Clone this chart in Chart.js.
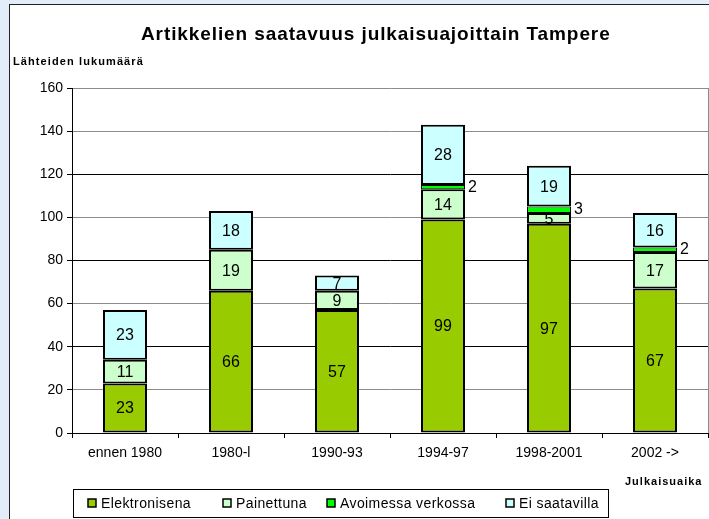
<!DOCTYPE html>
<html>
<head>
<meta charset="utf-8">
<script src="https://cdn.jsdelivr.net/npm/chart.js@4/dist/chart.umd.min.js"></script>
<style>
  html, body { margin: 0; padding: 0; background: #e3ecf9; overflow: hidden; }
  #frame { position: absolute; left: 9px; top: 4px; width: 710px; height: 530px; background: #fff;
           border-left: 1px solid #222; border-top: 1px solid #222; }
  #myChart { position: absolute; left: 0; top: 0; }
</style>
</head>
<body>
<div id="frame">
  <canvas id="myChart" width="699" height="514"></canvas>
</div>
<script>
const categories = ['ennen 1980', '1980-l', '1990-93', '1994-97', '1998-2001', '2002 ->'];
const elektronisena = [23, 66, 57, 99, 97, 67];
const painettuna = [11, 19, 9, 14, 5, 17];
const avoimessa = [0, 0, 0, 2, 3, 2];
const eiSaatavilla = [23, 18, 7, 28, 19, 16];
const yTicks = [0, 20, 40, 60, 80, 100, 120, 140, 160];

const titleText = 'Artikkelien saatavuus julkaisuajoittain Tampere';
const yTitle = 'Lähteiden lukumäärä';
const xTitle = 'Julkaisuaika';

const font = '"Liberation Sans", Arial, sans-serif';

// titles, value labels and the boxed legend
const extrasPlugin = {
    id: 'extras',
    afterDatasetsDraw(chart) {
        const ctx = chart.ctx;
        const area = chart.chartArea;
        ctx.save();

        // right edge of plot
        ctx.strokeStyle = '#8c8c8c';
        ctx.lineWidth = 1;
        ctx.beginPath();
        ctx.moveTo(area.right + 0.5, area.top);
        ctx.lineTo(area.right + 0.5, area.bottom);
        ctx.stroke();

        // value labels
        ctx.fillStyle = '#000';
        ctx.font = '16px ' + font;
        ctx.textBaseline = 'middle';
        chart.data.datasets.forEach((ds, di) => {
            const meta = chart.getDatasetMeta(di);
            meta.data.forEach((bar, i) => {
                const v = ds.data[i];
                if (!v) return;
                const yMid = (bar.y + bar.base) / 2;
                if (ds.label === 'Avoimessa verkossa') {
                    ctx.textAlign = 'left';
                    ctx.fillText(String(v), bar.x + bar.width / 2 + 3, yMid);
                } else {
                    ctx.textAlign = 'center';
                    ctx.fillText(String(v), bar.x, yMid + 1);
                }
            });
        });

        // title
        ctx.font = 'bold 19px ' + font;
        ctx.letterSpacing = '0.9px';
        ctx.textAlign = 'left';
        ctx.fillText(titleText, 131, 30);

        // axis titles
        ctx.font = 'bold 11px ' + font;
        ctx.letterSpacing = '1.1px';
        ctx.textAlign = 'left';
        ctx.fillText(yTitle, 3, 57);
        ctx.letterSpacing = '1px';
        ctx.fillText(xTitle, 615, 477);

        // legend
        ctx.letterSpacing = '0.4px';
        ctx.strokeStyle = '#000';
        ctx.lineWidth = 1;
        ctx.strokeRect(63.5, 484.5, 535, 28);
        const legendX = [78, 213, 317, 496];
        ctx.font = '14px ' + font;
        ctx.textAlign = 'left';
        chart.data.datasets.forEach((ds, di) => {
            const x = legendX[di];
            ctx.fillStyle = ds.backgroundColor;
            ctx.fillRect(x, 494, 8, 8);
            ctx.lineWidth = 1.5;
            ctx.strokeRect(x, 494, 8, 8);
            ctx.fillStyle = '#000';
            ctx.fillText(ds.label, x + 13, 499);
        });
        ctx.restore();
    }
};

const data = {
    labels: categories,
    datasets: [
        { label: 'Elektronisena', data: elektronisena, backgroundColor: '#99cc00', borderWidth: 2 },
        { label: 'Painettuna', data: painettuna, backgroundColor: '#ccffcc', borderWidth: 2 },
        { label: 'Avoimessa verkossa', data: avoimessa, backgroundColor: '#00ff00', borderWidth: 1 },
        { label: 'Ei saatavilla', data: eiSaatavilla, backgroundColor: '#ccffff', borderWidth: 2 }
    ].map(d => Object.assign(d, {
        borderColor: '#000',
        borderSkipped: false,
        barPercentage: 0.415,
        categoryPercentage: 1
    }))
};

const config = {
    type: 'bar',
    data,
    options: {
        responsive: false,
        animation: false,
        events: [],
        layout: { padding: { top: 83, right: 1, left: 0, bottom: 0 } },
        plugins: {
            legend: { display: false },
            title: { display: false },
            tooltip: { enabled: false }
        },
        scales: {
            x: {
                stacked: true,
                afterFit: (scale) => { scale.height = 86; },
                grid: { drawOnChartArea: false, color: '#000', tickLength: 5 },
                border: { color: '#000', width: 1 },
                ticks: { color: '#000', font: { family: font, size: 14 }, padding: 7, maxRotation: 0 }
            },
            y: {
                stacked: true,
                min: 0,
                max: 160,
                afterFit: (scale) => { scale.width = 62; },
                afterBuildTicks: (scale) => { scale.ticks = yTicks.map(v => ({ value: v })); },
                grid: {
                    color: (c) => (c.tick && c.tick.value % 40 === 0 && c.tick.value !== 160) ? '#000' : '#8c8c8c',
                    tickColor: '#000',
                    tickLength: 5
                },
                border: { color: '#000', width: 1 },
                ticks: { color: '#000', font: { family: font, size: 14 }, padding: 4 }
            }
        }
    },
    plugins: [extrasPlugin]
};

const myChart = new Chart(document.getElementById('myChart'), config);
</script>
</body>
</html>
